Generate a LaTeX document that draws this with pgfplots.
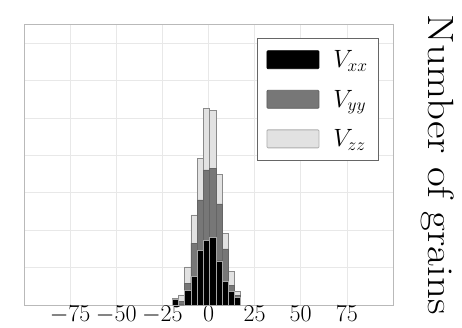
\documentclass[border=0pt]{standalone}
\usepackage{fix-cm}
\usepackage{pgfplots}
\pgfplotsset{compat=1.18}
\definecolor{vyy}{HTML}{777777}
\definecolor{vzz}{HTML}{E2E2E2}
\definecolor{vzzedge}{HTML}{8A8A8A}
\begin{document}
\begin{tikzpicture}
\begin{axis}[
  scale only axis, width=369pt, height=281pt,
  xmin=-100, xmax=100, ymin=0, ymax=7.51,
  xtick={-75,-50,-25,0,25,50,75},
  ytick={0,1,...,7}, yticklabels={},
  grid=major, major grid style={gray!18, line width=0.6pt},
  axis line style={gray!55, line width=0.8pt},
  major tick length=0pt,
  clip=false,
  ticklabel style={font=\fontsize{24}{28}\selectfont},
  xticklabel style={inner sep=1pt},
  legend style={at={(1,1)}, xshift=-14pt, yshift=-14pt, anchor=north east,
    draw=gray!80!black, line width=0.8pt, font=\fontsize{25}{28}\selectfont,
    row sep=17pt, inner xsep=9pt, inner ysep=10pt,
    /tikz/every odd column/.append style={column sep=12pt}},
  legend cell align=left,
  legend image code/.code={\draw[#1] (0pt,-9pt) rectangle (52pt,9pt);},
]
\addlegendimage{fill=black, draw=black, rounded corners=1pt}
\addlegendentry{$V_{xx}$}
\addlegendimage{fill=vyy, draw=vyy!80!black, rounded corners=1pt}
\addlegendentry{$V_{yy}$}
\addlegendimage{fill=vzz, draw=vzzedge!70, rounded corners=1pt}
\addlegendentry{$V_{zz}$}

\addplot[ybar interval, fill=vzz, draw=vzzedge, line width=0.6pt, forget plot] coordinates {
(-19.6,0.18) (-16.23,0.27) (-12.86,1.02) (-9.49,2.41) (-6.12,3.92) (-2.75,5.26)
(0.62,5.21) (3.99,3.48) (7.36,1.92) (10.73,0.89) (14.10,0.36) (17.47,0.36)};
\addplot[ybar interval, fill=vyy, draw=vyy!85!black, line width=0.6pt, forget plot] coordinates {
(-19.6,0.05) (-16.23,0.10) (-12.86,0.58) (-9.49,1.65) (-6.12,2.81) (-2.75,3.61)
(0.62,3.66) (3.99,2.70) (7.36,1.50) (10.73,0.53) (14.10,0.25) (17.47,0.25)};
\addplot[ybar interval, fill=black, draw=gray!70, line width=0.6pt, forget plot] coordinates {
(-19.6,0.15) (-16.23,0) (-12.86,0.40) (-9.49,0.76) (-6.12,1.45) (-2.75,1.72)
(0.62,1.81) (3.99,1.18) (7.36,0.62) (10.73,0.36) (14.10,0.21) (17.47,0.21)};

\coordinate (ll) at (rel axis cs:0,0);
\coordinate (ur) at (rel axis cs:1,1);
\node[xshift=45pt, rotate=-90, yscale=0.85, font=\fontsize{43}{46}\selectfont] at (rel axis cs:1,0.5) {Number of grains};
\end{axis}
\pgfresetboundingbox
\path[use as bounding box] ([shift={(-24pt,-23pt)}]ll) rectangle ([shift={(69pt,24pt)}]ur);
\end{tikzpicture}
\end{document}
